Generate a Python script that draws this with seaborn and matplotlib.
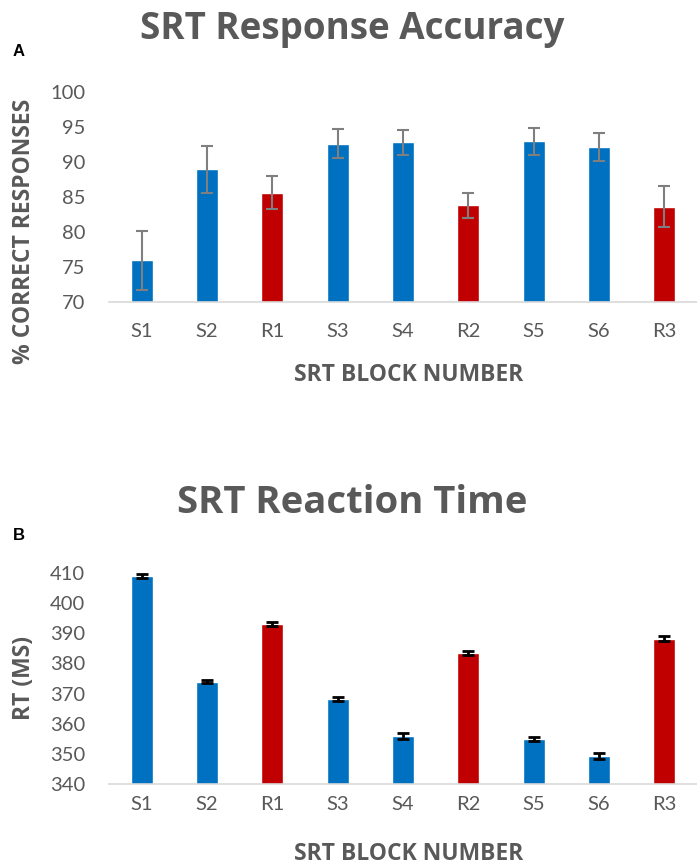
import matplotlib
matplotlib.use("Agg")
import matplotlib.pyplot as plt
import seaborn as sns
import numpy as np
import pandas as pd

blocks = ["S1", "S2", "R1", "S3", "S4", "R2", "S5", "S6", "R3"]
block_type = ["S", "S", "R", "S", "S", "R", "S", "S", "R"]
accuracy = [75.9, 88.9, 85.6, 92.6, 92.8, 83.8, 92.9, 92.1, 83.6]
accuracy_err = [4.2, 3.3, 2.3, 2.1, 1.8, 1.8, 1.9, 2.0, 2.9]
rt = [409.0, 374.0, 393.0, 368.2, 355.8, 383.5, 355.0, 349.4, 388.2]
rt_err = [0.6, 0.6, 0.6, 0.6, 1.0, 0.7, 0.6, 1.0, 0.9]
acc_ticks = [70, 75, 80, 85, 90, 95, 100]
rt_ticks = [340, 350, 360, 370, 380, 390, 400, 410]

BLUE = "#0070C0"
RED = "#C00000"
GRAY = "#595959"
palette = {"S": BLUE, "R": RED}

sns.set_theme(style="white")
plt.rcParams["font.family"] = ["Lato", "DejaVu Sans"]
BOLDFONT = ["Open Sans", "DejaVu Sans"]

W, H = 697, 868
fig = plt.figure(figsize=(W / 100, H / 100), dpi=100)

df = pd.DataFrame({"block": blocks, "type": block_type, "acc": accuracy,
                   "acc_err": accuracy_err, "rt": rt, "rt_err": rt_err})


def fy(py):
    return 1 - py / H


def panel(ax, col, errcol, ylim, ticks, ecolor, elw, ylabel, ylab_y,
          title, title_base, title_size, letter, letter_y, xlab_base, xpad):
    sns.barplot(data=df, x="block", y=col, hue="type", palette=palette,
                dodge=False, legend=False, width=0.34, ax=ax, saturation=1,
                order=blocks)
    xs = np.arange(len(blocks))
    ax.errorbar(xs, df[col], yerr=df[errcol], fmt="none", ecolor=ecolor,
                elinewidth=elw, capsize=4.5, capthick=elw, zorder=5)
    ax.set_ylim(*ylim)
    ax.set_xlim(-0.5, len(blocks) - 0.5)
    ax.set_yticks(ticks)
    ax.set_yticklabels([str(t) for t in ticks])
    for s in ["top", "right", "left"]:
        ax.spines[s].set_visible(False)
    ax.spines["bottom"].set_color("#D9D9D9")
    ax.spines["bottom"].set_linewidth(1.2)
    ax.tick_params(axis="both", length=0, colors=GRAY, labelsize=14.5)
    ax.tick_params(axis="x", pad=xpad)
    ax.tick_params(axis="y", pad=17)
    ax.set_xlabel("")
    ax.set_ylabel("")
    fig.text(24 / W, fy(ylab_y), ylabel, rotation=90, ha="center",
             va="center", fontsize=16.5, fontweight="bold", color=GRAY,
             family=BOLDFONT)
    fig.text(409 / W, fy(xlab_base), "SRT BLOCK NUMBER", ha="center",
             va="baseline", fontsize=16.5, fontweight="bold", color=GRAY,
             family=BOLDFONT)
    fig.text(0.505, fy(title_base), title, ha="center", va="baseline",
             fontsize=title_size, fontweight="bold", color=GRAY,
             family=BOLDFONT)
    fig.text(13 / W, fy(letter_y), letter, ha="left", va="center",
             fontsize=12, fontweight="bold", color="black",
             family=["Liberation Sans", "DejaVu Sans"])


axA = fig.add_axes([109 / W, fy(301.7), 1 - 109 / W, (301.7 - 91.7) / H])
panel(axA, "acc", "acc_err", (70, 100), acc_ticks, "#7F7F7F", 1.5,
      "% CORRECT RESPONSES", 231, "SRT Response Accuracy", 39, 26.5,
      "A", 52, 381, 15)

axB = fig.add_axes([109 / W, fy(784), 1 - 109 / W, (784 - 573) / H])
panel(axB, "rt", "rt_err", (340, 410), rt_ticks, "black", 2.0,
      "RT (MS)", 678, "SRT Reaction Time", 513, 27.5,
      "B", 536, 860, 9)

fig.savefig("out.png", dpi=100)
